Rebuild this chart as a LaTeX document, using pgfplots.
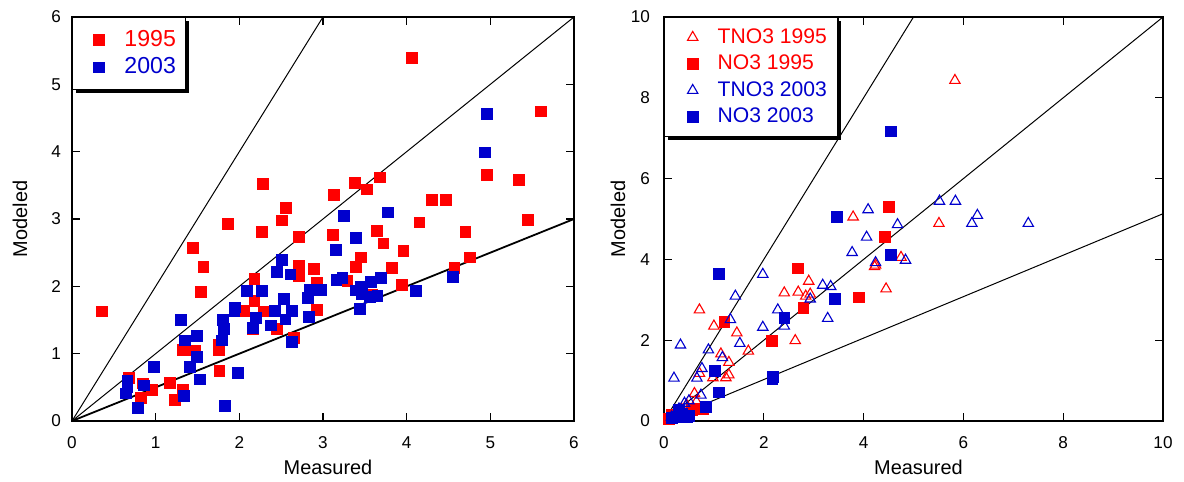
\documentclass[border=0pt]{standalone}
\usepackage{pgfplots}
\pgfplotsset{compat=1.18}
\usepackage{fontspec}
\setmainfont{Liberation Sans}
\usetikzlibrary{shadows}
\definecolor{myred}{RGB}{255,0,0}
\definecolor{myblue}{RGB}{0,0,205}

\pgfplotsset{
  myaxis/.style={
    scale only axis, height=202bp,
    axis line style={line width=0.6bp},
    every tick/.style={black, line width=0.6bp},
    tick align=inside, major tick length=3.8bp,
    tick pos=both,
    tick label style={font=\fontsize{8.6}{10}\selectfont},
    xticklabel style={yshift=-4.3bp},
    yticklabel style={xshift=-2bp},
    /pgf/number format/assume math mode=true,
    label style={font=\fontsize{10.4}{12}\selectfont},
    xlabel={Measured}, ylabel={Modeled},
    every axis x label/.style={at={(axis description cs:0.51,-0.114)}, anchor=center},
    legend cell align=left,
    legend image code/.code={\pgfpathmoveto{\pgfpoint{0bp}{0bp}}\pgfpathmoveto{\pgfpoint{21bp}{0bp}}\pgfusepath{}\draw[##1] plot coordinates {(10.5bp,0bp)};},
  },
  refline/.style={black, line width=0.5bp, no marks},
  redsq/.style={only marks, mark=square*, mark size=2.7bp, mark options={fill=myred, draw=myred, line width=0.3bp}},
  bluesq/.style={only marks, mark=square*, mark size=2.7bp, mark options={fill=myblue, draw=myblue, line width=0.3bp}},
  redtri/.style={only marks, mark=triangle, mark size=3bp, mark options={draw=myred, line width=0.55bp}},
  bluetri/.style={only marks, mark=triangle, mark size=3bp, mark options={draw=myblue, line width=0.55bp}},
}

\begin{document}
\begin{tikzpicture}
\path[use as bounding box] (0bp,0bp) rectangle (592bp,241bp);

% ---------------- left panel ----------------
\begin{axis}[myaxis, at={(36bp,30.5bp)}, anchor=south west, width=251bp,
  xmin=0, xmax=6, ymin=0, ymax=6,
  xtick={0,1,...,6}, ytick={0,1,...,6},
  every axis y label/.style={at={(axis description cs:-0.1036,0.5)}, rotate=90, anchor=center},
  legend style={at={(0,1)}, anchor=north west, draw=black, line width=0.7bp, fill=white,
    drop shadow={shadow xshift=1.7bp, shadow yshift=-1.7bp, opacity=1, fill=black},
    font=\fontsize{11.6}{12}\selectfont, inner xsep=2.5bp, inner ysep=4.2bp,
    nodes={inner xsep=2.4bp, inner ysep=2.1bp}, row sep=0pt},
]
\addplot[refline, forget plot] coordinates {(0,0) (3,6)};
\addplot[refline, forget plot] coordinates {(0,0) (6,6)};
\addplot[black, line width=0.9bp, no marks, forget plot] coordinates {(0,0) (6,3)};
\addplot[redsq] coordinates {
(0.36,1.63) (4.06,5.40) (5.60,4.60) (4.96,3.66) (5.34,3.58) (5.45,2.99) (4.30,3.29) (4.47,3.29)
(4.70,2.81) (4.75,2.43) (4.57,2.28) (4.15,2.95) (3.96,2.53) (3.94,2.02) (3.82,2.28) (3.72,2.64)
(3.64,2.82) (3.68,3.62) (3.52,3.44) (3.38,3.54) (3.13,3.36) (3.12,2.77) (3.45,2.43) (3.39,2.29)
(3.29,2.08) (2.93,2.06) (2.89,2.26) (2.93,1.65) (2.71,2.74) (2.71,2.31) (2.71,2.16) (2.56,3.17)
(2.51,2.98) (2.28,3.52) (2.27,2.81) (1.86,2.93) (1.44,2.57) (1.57,2.29) (1.54,1.92) (2.18,2.11)
(2.18,1.79) (2.06,1.64) (2.29,1.63) (2.16,1.37) (2.45,1.37) (2.65,1.23) (1.75,1.13) (1.75,1.06)
(1.47,1.05) (1.32,1.06) (1.76,0.74) (1.17,0.57) (1.32,0.47) (1.23,0.32) (0.95,0.46) (0.85,0.56)
(0.82,0.34) (0.68,0.64) (3.58,1.87)
};
\addlegendentry{\textcolor{myred}{1995}}
\addplot[bluesq] coordinates {
(4.96,4.56) (4.93,3.99) (3.77,3.10) (3.25,3.05) (3.39,2.72) (3.15,2.54) (2.51,2.40) (2.45,2.21)
(2.61,2.18) (3.16,2.10) (3.23,2.13) (3.69,2.13) (3.57,2.07) (3.45,1.99) (3.39,1.94) (3.46,1.89)
(3.56,1.84) (3.65,1.86) (3.44,1.67) (2.97,1.95) (2.84,1.95) (2.82,1.83) (2.83,1.55) (2.53,1.82)
(2.63,1.64) (2.55,1.51) (2.42,1.64) (2.38,1.42) (2.63,1.18) (2.09,1.93) (2.27,1.93) (1.95,1.69)
(1.94,1.64) (2.20,1.53) (2.16,1.39) (1.80,1.50) (1.81,1.37) (1.79,1.20) (1.30,1.50) (1.35,1.20)
(1.49,1.27) (1.49,0.95) (1.41,0.80) (1.53,0.62) (1.98,0.72) (1.83,0.22) (1.34,0.37) (0.98,0.81)
(0.86,0.53) (0.79,0.20) (0.66,0.60) (0.64,0.41) (0.66,0.50) (4.11,1.93) (4.55,2.14)
};
\addlegendentry{\textcolor{myblue}{2003}}
\end{axis}

% ---------------- right panel ----------------
\begin{axis}[myaxis, at={(332bp,30.5bp)}, anchor=south west, width=249.5bp,
  xmin=0, xmax=10, ymin=0, ymax=10,
  xtick={0,2,...,10}, ytick={0,2,...,10},
  yticklabel style={xshift=-1.5bp},
  every axis y label/.style={at={(axis description cs:-0.092,0.5)}, rotate=90, anchor=center},
  legend style={at={(0,1)}, anchor=north west, draw=black, line width=0.7bp, fill=white,
    drop shadow={shadow xshift=1.7bp, shadow yshift=-1.7bp, opacity=1, fill=black},
    font=\fontsize{10.6}{12}\selectfont, inner xsep=3.5bp, inner ysep=3.2bp,
    nodes={inner xsep=2bp, inner ysep=2.2bp}, row sep=0pt},
]
\addplot[refline, forget plot] coordinates {(0,0) (5,10)};
\addplot[refline, forget plot] coordinates {(0,0) (10,10)};
\addplot[refline, forget plot] coordinates {(0,0) (10,5.13)};
\addplot[redtri] coordinates {
(5.83,8.43) (3.79,5.05) (5.51,4.89) (4.75,4.05) (4.24,3.86) (4.22,3.82) (4.45,3.27) (2.90,3.46)
(2.69,3.19) (2.41,3.17) (2.93,3.14) (2.84,3.09) (2.63,1.99) (0.71,2.75) (1.00,2.35) (1.46,2.18)
(1.69,1.73) (1.14,1.66) (1.30,1.45) (1.30,1.14) (1.24,1.07) (0.98,1.07) (0.71,1.18) (0.61,0.68)
(0.65,0.48) (0.45,0.40) (0.35,0.30) (0.20,0.15) (0.12,0.08)
};
\addlegendentry{\textcolor{myred}{TNO3 1995}}
\addplot[redsq] coordinates {
(2.68,3.78) (4.50,5.30) (4.42,4.55) (3.90,3.06) (2.79,2.81) (1.21,2.46) (2.16,1.99) (0.78,0.31)
(0.66,0.31) (0.55,0.28) (0.30,0.20) (0.16,0.07) (0.10,0.05) (0.15,0.15)
};
\addlegendentry{\textcolor{myred}{NO3 1995}}
\addplot[bluetri] coordinates {
(0.33,1.88) (0.89,1.76) (1.43,3.09) (1.98,3.63) (1.33,2.51) (1.52,1.92) (1.17,1.57) (0.76,1.30)
(0.20,1.06) (0.66,1.06) (0.74,0.64) (0.41,0.44) (0.30,0.30) (0.50,0.50) (1.98,2.32) (2.28,2.75)
(2.41,2.35) (2.93,3.02) (3.18,3.36) (3.34,3.33) (3.28,2.54) (3.77,4.17) (4.06,4.55) (4.09,5.23)
(4.24,3.92) (4.68,4.86) (4.84,3.98) (5.52,5.44) (5.84,5.44) (6.17,4.89) (6.28,5.09) (7.30,4.89)
(0.15,0.10)
};
\addlegendentry{\textcolor{myblue}{TNO3 2003}}
\addplot[bluesq] coordinates {
(1.10,3.65) (4.55,7.17) (3.46,5.05) (4.54,4.12) (3.43,3.03) (2.41,2.56) (1.02,1.24) (1.10,0.71)
(2.17,1.04) (2.18,1.10) (0.84,0.35) (0.29,0.27) (0.45,0.09) (0.15,0.07) (0.35,0.18) (0.50,0.12)
(0.25,0.10)
};
\addlegendentry{\textcolor{myblue}{NO3 2003}}
\end{axis}
\end{tikzpicture}
\end{document}
